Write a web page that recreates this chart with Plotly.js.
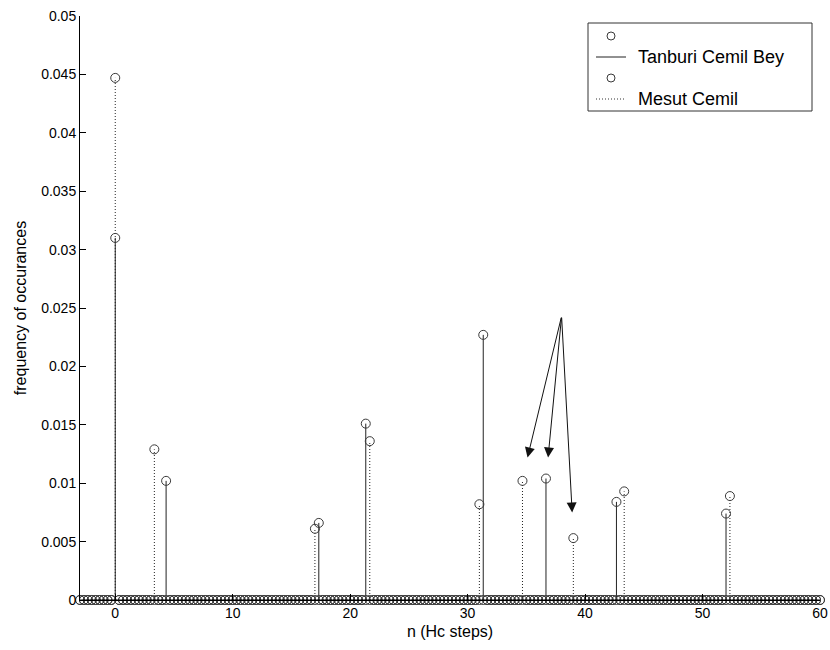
<!DOCTYPE html>
<html>
<head>
<meta charset="utf-8">
<script src="https://cdn.plot.ly/plotly-3.0.1.min.js"></script>
<style>html,body{margin:0;padding:0;background:#fff;}#chart{width:830px;height:650px;}</style>
</head>
<body>
<div id="chart"></div>
<script>
// ---- data ----
const tanburiX = [0, 4.33, 17.33, 21.33, 31.33, 36.67, 42.67, 52];
const tanburiY = [0.0310, 0.0102, 0.0066, 0.0151, 0.0227, 0.0104, 0.0084, 0.0074];
const mesutX = [0, 3.33, 17, 21.67, 31, 34.67, 39, 43.33, 52.33];
const mesutY = [0.0447, 0.0129, 0.0061, 0.0136, 0.0082, 0.0102, 0.0053, 0.0093, 0.0089];
// zero-valued samples lie on a 1/3 Hc grid from -3 to 60
const gridFrom = -9, gridTo = 180, gridDiv = 3;
const xTickVals = [0, 10, 20, 30, 40, 50, 60];
const yTickVals = [0, 0.005, 0.01, 0.015, 0.02, 0.025, 0.03, 0.035, 0.04, 0.045, 0.05];
const yTickText = ["0", "0.005", "0.01", "0.015", "0.02", "0.025", "0.03", "0.035", "0.04", "0.045", "0.05"];
const arrowTail = [38.0, 0.0243];
const arrowTipsX = [35.1, 36.85, 38.9];
const arrowTipsY = [0.0122, 0.0122, 0.0075];

function stemLines(xs, ys) {
  const lx = [], ly = [];
  xs.forEach((x, i) => { lx.push(x, x, null); ly.push(0, ys[i], null); });
  return {x: lx, y: ly};
}
function markers(xs, ys) {
  const mx = [], my = [];
  for (let k = gridFrom; k <= gridTo; k++) {
    const g = k / gridDiv;
    if (!xs.some(x => Math.abs(x - g) < 0.05)) { mx.push(g); my.push(0); }
  }
  xs.forEach((x, i) => { mx.push(x); my.push(ys[i]); });
  return {x: mx, y: my};
}

const font = {family: 'Liberation Sans, Arial, sans-serif', size: 14, color: '#000'};
const titleFont = {family: 'Liberation Sans, Arial, sans-serif', size: 16, color: '#000'};
const legFont = {family: 'Liberation Sans, Arial, sans-serif', size: 18, color: '#000'};
const mk = {symbol: 'circle-open', size: 9, color: '#3a3a3a', line: {width: 1, color: '#3a3a3a'}};
const dotDash = '1px,2px';

const mS = stemLines(mesutX, mesutY);
const tS = stemLines(tanburiX, tanburiY);
const mM = markers(mesutX, mesutY);
const tM = markers(tanburiX, tanburiY);

const traces = [
  {x: mS.x, y: mS.y, mode: 'lines', line: {color: '#222', width: 1, dash: dotDash}, showlegend: false, hoverinfo: 'skip', cliponaxis: false},
  {x: tS.x, y: tS.y, mode: 'lines', line: {color: '#222', width: 1}, showlegend: false, hoverinfo: 'skip', cliponaxis: false},
  {x: mM.x, y: mM.y, mode: 'markers', marker: mk, showlegend: false, cliponaxis: false},
  {x: tM.x, y: tM.y, mode: 'markers', marker: mk, showlegend: false, cliponaxis: false}
];

const annotations = arrowTipsX.map((x, i) => ({
  x: x, y: arrowTipsY[i], xref: 'x', yref: 'y',
  ax: arrowTail[0], ay: arrowTail[1], axref: 'x', ayref: 'y',
  showarrow: true, arrowhead: 2, arrowsize: 2, arrowwidth: 1, arrowcolor: '#111', text: ''
}));

// legend (MATLAB style: marker row, then line row)
const lg = {x0: 588, x1: 812, y0: 23, y1: 111};
function px(x) { return (x - 80) / 740; }
function py(y) { return 1 - (y - 16) / 584; }
annotations.push(
  {xref: 'paper', yref: 'paper', x: px(636), y: py(57), xanchor: 'left', yanchor: 'middle', text: 'Tanburi Cemil Bey', showarrow: false, font: legFont},
  {xref: 'paper', yref: 'paper', x: px(636), y: py(99), xanchor: 'left', yanchor: 'middle', text: 'Mesut Cemil', showarrow: false, font: legFont}
);
const shapes = [
  {type: 'line', xref: 'x', yref: 'y', x0: -3, x1: 60, y0: 0, y1: 0, line: {color: '#000', width: 1}},
  {type: 'rect', xref: 'paper', yref: 'paper', x0: px(lg.x0), x1: px(lg.x1), y0: py(lg.y1), y1: py(lg.y0), line: {color: '#333', width: 1}, fillcolor: '#fff', layer: 'above'},
  {type: 'circle', xref: 'paper', yref: 'paper', xsizemode: 'pixel', ysizemode: 'pixel', xanchor: px(611), yanchor: py(36), x0: -4, x1: 4, y0: -4, y1: 4, line: {color: '#3a3a3a', width: 1}},
  {type: 'line', xref: 'paper', yref: 'paper', x0: px(596), x1: px(626), y0: py(57), y1: py(57), line: {color: '#222', width: 1}},
  {type: 'circle', xref: 'paper', yref: 'paper', xsizemode: 'pixel', ysizemode: 'pixel', xanchor: px(611), yanchor: py(78), x0: -4, x1: 4, y0: -4, y1: 4, line: {color: '#3a3a3a', width: 1}},
  {type: 'line', xref: 'paper', yref: 'paper', x0: px(596), x1: px(626), y0: py(99), y1: py(99), line: {color: '#333', width: 1, dash: dotDash}}
];

const layout = {
  width: 830, height: 650,
  margin: {l: 80, r: 10, t: 16, b: 50},
  paper_bgcolor: '#fff', plot_bgcolor: '#fff',
  font: font, showlegend: false,
  xaxis: {range: [-3, 60], tickvals: xTickVals, ticktext: xTickVals.map(String), ticks: 'inside', ticklen: 6, tickcolor: '#000',
    showline: true, linecolor: '#000', linewidth: 1, mirror: false, showgrid: false, zeroline: false,
    title: {text: 'n (Hc steps)', font: titleFont, standoff: 6}, tickfont: font},
  yaxis: {range: [0, 0.05], tickvals: yTickVals, ticktext: yTickText, ticks: 'inside', ticklen: 6, tickcolor: '#000',
    showline: true, linecolor: '#000', linewidth: 1, mirror: false, showgrid: false, zeroline: false,
    title: {text: 'frequency of occurances', font: titleFont, standoff: 10}, tickfont: font},
  annotations: annotations,
  shapes: shapes
};

Plotly.newPlot('chart', traces, layout, {staticPlot: true});
</script>
</body>
</html>
